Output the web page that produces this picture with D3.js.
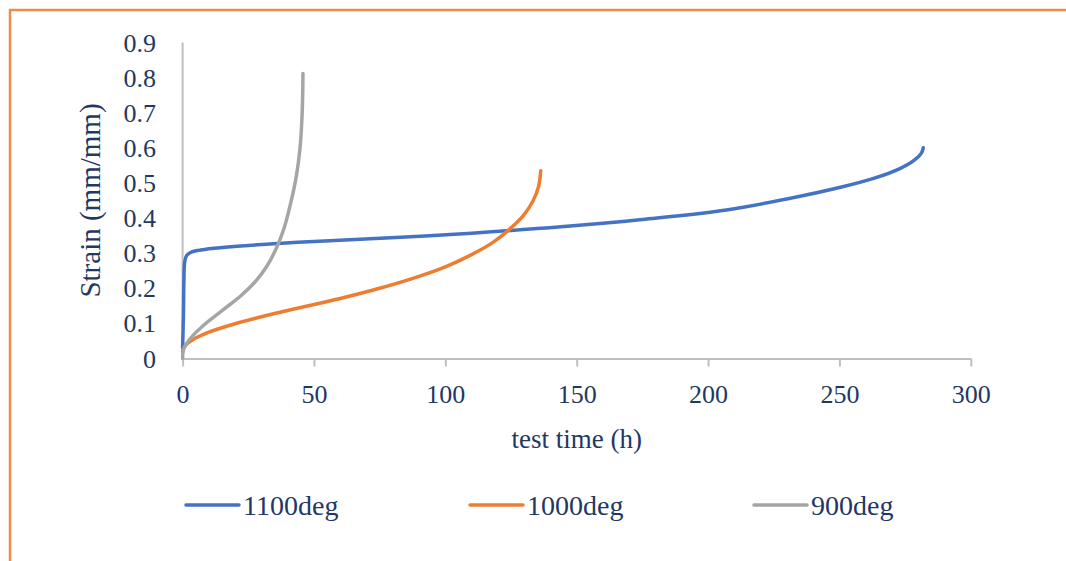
<!DOCTYPE html>
<html>
<head>
<meta charset="utf-8">
<script src="https://cdn.jsdelivr.net/npm/d3@7.9.0/dist/d3.min.js"></script>
<style>
  html, body { margin: 0; padding: 0; background: #fff; }
  svg { display: block; font-family: "Liberation Serif", "DejaVu Serif", serif; }
  text { font-family: "Liberation Serif", "DejaVu Serif", serif; fill: #1F3864; }
</style>
</head>
<body>
<svg id="chart" width="1066" height="561"></svg>
<script>
// creep curves: [time h, strain mm/mm]
const series1100 = [
  [0, 0.03], [0.3, 0.12], [0.5, 0.22], [0.8, 0.275], [1.5, 0.293], [3, 0.302],
  [6, 0.308], [12, 0.314], [25, 0.322], [54, 0.335], [83, 0.345], [110, 0.357],
  [144, 0.375], [175, 0.396], [207, 0.423], [235, 0.462],
  [250, 0.487], [263, 0.513], [273, 0.541], [278.5, 0.565], [281.2, 0.585], [281.9, 0.6]
];
const series1000 = [
  [0, 0.02], [1, 0.037], [4, 0.054], [10, 0.075], [20, 0.099], [35, 0.128],
  [60, 0.171], [75, 0.2], [90, 0.234], [100, 0.261], [110, 0.296], [118, 0.33],
  [125, 0.372], [130, 0.41], [133.3, 0.448], [135.5, 0.49], [136.3, 0.535]
];
const series900 = [
  [0, 0.0], [0.3, 0.024], [1.5, 0.042], [4, 0.066], [9.8, 0.106], [16, 0.142],
  [22.5, 0.181], [28, 0.222], [32, 0.262], [35.5, 0.311], [38.5, 0.368], [41, 0.438],
  [43.3, 0.52], [44.7, 0.6], [45.4, 0.68], [45.7, 0.75], [45.8, 0.812]
];
const seriesNames = ['1100deg', '1000deg', '900deg'];
const seriesColors = ['#4472C4', '#ED7D31', '#A5A5A5'];
const xTicks = [0, 50, 100, 150, 200, 250, 300];
const yTicks = [0, 0.1, 0.2, 0.3, 0.4, 0.5, 0.6, 0.7, 0.8, 0.9];

const svg = d3.select('#chart');
const serif = '"Liberation Serif", "DejaVu Serif", serif';

// orange frame around the chart area
svg.append('path')
  .attr('d', 'M10,570 L10,10 L1080,10')
  .attr('fill', 'none')
  .attr('stroke', '#F08A4B')
  .attr('stroke-width', 2.5);

const x = d3.scaleLinear().domain([0, 300]).range([182.6, 970.8]);
const y = d3.scaleLinear().domain([0, 0.9]).range([358.5, 42.5]);

// y axis line (no ticks)
svg.append('line')
  .attr('x1', x(0)).attr('x2', x(0))
  .attr('y1', y(0.9)).attr('y2', y(0))
  .attr('stroke', '#BFBFBF').attr('stroke-width', 2);

// x axis with downward ticks
const xAxis = svg.append('g')
  .attr('transform', `translate(0,${y(0)})`)
  .call(d3.axisBottom(x).tickValues(xTicks).tickSize(8).tickSizeOuter(0).tickFormat(d3.format('d')))
  .attr('font-family', serif)
  .attr('font-size', 26);
xAxis.select('.domain').attr('stroke', '#BFBFBF').attr('stroke-width', 2);
xAxis.selectAll('.tick line').attr('stroke', '#BFBFBF').attr('stroke-width', 2);
xAxis.selectAll('.tick text')
  .attr('y', 44)
  .attr('dy', 0)
  .attr('fill', '#1F3864');

// y tick labels
const yFmt = (d) => d === 0 ? '0' : d3.format('.1f')(d);
svg.append('g')
  .attr('font-family', serif)
  .selectAll('text')
  .data(yTicks)
  .join('text')
  .attr('x', 156)
  .attr('y', (d) => y(d) + 9)
  .attr('text-anchor', 'end')
  .style('font-size', '26px')
  .text(yFmt);

// axis titles
svg.append('text')
  .attr('x', (x(0) + x(300)) / 2)
  .attr('y', 448)
  .attr('text-anchor', 'middle')
  .style('font-size', '27px')
  .text('test time (h)');

svg.append('text')
  .attr('transform', `translate(100,${(y(0) + y(0.9)) / 2}) rotate(-90)`)
  .attr('text-anchor', 'middle')
  .style('font-size', '29px')
  .text('Strain (mm/mm)');

// curves
const line = d3.line()
  .x((d) => x(d[0]))
  .y((d) => y(d[1]))
  .curve(d3.curveCatmullRom.alpha(0.5));

const allSeries = [series1100, series1000, series900];
allSeries.forEach((s, i) => {
  svg.append('path')
    .datum(s)
    .attr('d', line)
    .attr('fill', 'none')
    .attr('stroke', seriesColors[i])
    .attr('stroke-width', 3.5)
    .attr('stroke-linecap', 'round')
    .attr('stroke-linejoin', 'round');
});

// legend
const legendX = [186, 470, 754];
seriesNames.forEach((name, i) => {
  const g = svg.append('g').attr('transform', `translate(${legendX[i]},505)`);
  g.append('line')
    .attr('x1', 0).attr('x2', 53)
    .attr('y1', 0).attr('y2', 0)
    .attr('stroke', seriesColors[i])
    .attr('stroke-width', 3.5)
    .attr('stroke-linecap', 'round');
  g.append('text')
    .attr('x', 57)
    .attr('y', 10)
    .style('font-size', '28px')
    .text(name);
});
</script>
</body>
</html>
